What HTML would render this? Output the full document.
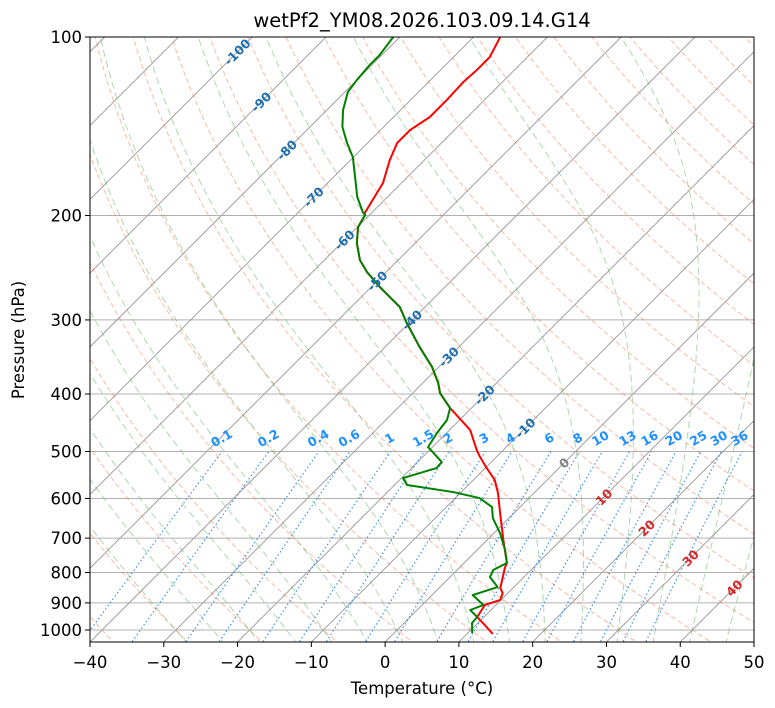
<!DOCTYPE html>
<html><head><meta charset="utf-8">
<style>
html,body{margin:0;padding:0;background:#fff;}
svg{display:block;font-family:"DejaVu Sans","Liberation Sans",sans-serif;}
</style></head>
<body>
<svg id="chart" width="775" height="708" viewBox="0 0 775 708" xmlns="http://www.w3.org/2000/svg">
<defs><clipPath id="plotclip"><rect x="90" y="37" width="664" height="605"/></clipPath></defs>
<rect x="0" y="0" width="775" height="708" fill="#fff"/>
<g id="bg" clip-path="url(#plotclip)"></g>
<g id="series" clip-path="url(#plotclip)"></g>
<g id="labels"></g>
<rect x="90" y="37" width="664" height="605" fill="none" stroke="#000" stroke-width="1"/>
<g id="axes"></g>
<text x="422" y="27" text-anchor="middle" font-size="19.5" fill="#000">wetPf2_YM08.2026.103.09.14.G14</text>
<text x="422" y="694" text-anchor="middle" font-size="16.5" fill="#000">Temperature (°C)</text>
<text x="24" y="340" text-anchor="middle" font-size="16.5" fill="#000" transform="rotate(-90 24 340)">Pressure (hPa)</text>
</svg>
<script>
// ---- data ----
const tempP = [100,108.1,113.7,119.1,127.7,136.5,143.5,150.9,161.2,176.3,188.3,198.1,199.6,209.2,222.6,237.7,249.1,264.1,285.4,303.6,333.3,360.2,383.3,398.5,422.4,460.0,497.2,510.9,533.3,558.5,587.5,634.9,705.1,771.0,786.1,849.7,866.3,889.9,907.5,950.8,980.8,1015.5];
const tempT = [-66.4,-65.1,-65.1,-65.3,-65.1,-65.1,-66.0,-66.0,-64.7,-62.5,-61.6,-60.9,-60.6,-59.9,-57.9,-55.2,-52.6,-48.8,-43.4,-40.3,-35.3,-30.9,-27.9,-26.3,-22.9,-17.2,-13.6,-12.2,-9.8,-7.1,-4.9,-1.9,2.2,5.8,6.2,8.3,9.3,9.9,8.5,9.1,11.2,13.5];
const dewP = [100,107.2,111.5,118.2,123.8,132.8,141.8,150.9,159.4,172.2,186.1,197.3,199.6,209.2,222.6,237.7,249.1,264.1,285.4,303.6,333.3,360.2,383.3,398.5,422.4,442.5,465.4,491.4,521.0,533.3,554.4,569.6,585.3,599.1,620.4,647.4,686.2,733.1,771.0,792.3,814.1,846.4,873.0,907.5,925.4,950.8,973.2,1011.8];
const dewT = [-80.9,-80.3,-80.3,-80.0,-79.6,-77.8,-75.6,-72.8,-70.1,-67.1,-64.1,-61.3,-60.6,-59.9,-57.9,-55.2,-52.6,-48.8,-43.4,-40.3,-35.3,-30.9,-27.9,-26.3,-22.9,-21.7,-21.3,-20.6,-16.7,-16.6,-19.8,-18.3,-11.1,-6.7,-3.8,-2.2,0.8,3.8,5.8,4.9,5.4,7.8,5.5,8.3,7.2,9.1,9.2,10.6];
const xTicks = [-40,-30,-20,-10,0,10,20,30,40,50];
const pTicks = [100,200,300,400,500,600,700,800,900,1000];
const mixRatios = [0.1,0.2,0.4,0.6,1,1.5,2,3,4,6,8,10,13,16,20,25,30,36];
const isoLabels = [-100,-90,-80,-70,-60,-50,-40,-30,-20,-10,0,10,20,30,40];
const isoLabelY = [52,102,150,197,240,281,320,357,395,428,463,497,528,558,588];

// ---- scales ----
const NS='http://www.w3.org/2000/svg';
function Y(p){return 37+593*Math.log10(p/100);}
function X(T,p){return 90+(T+40)*7.378+(642-Y(p));}
function mk(tag,attrs,parent){const e=document.createElementNS(NS,tag);for(const k in attrs)e.setAttribute(k,attrs[k]);parent.appendChild(e);return e;}
function pathFrom(Ts,Ps){let d='';for(let i=0;i<Ts.length;i++){d+=(i?'L':'M')+X(Ts[i],Ps[i]).toFixed(2)+' '+Y(Ps[i]).toFixed(2);}return d;}
const bg=document.getElementById('bg'), ser=document.getElementById('series'), lab=document.getElementById('labels'), ax=document.getElementById('axes');
const pLev=[];for(let p=1060;p>=95;p-=5)pLev.push(p);

// isobars
for(const p of pTicks){const l=mk('line',{x1:90,x2:754,y1:Y(p),y2:Y(p),stroke:'#b0b0b0','stroke-width':1},bg);

}
// isotherms
for(let T=-160;T<=50;T+=10){const l=mk('line',{x1:X(T,1050),y1:Y(1050),x2:X(T,90),y2:Y(90),stroke:'#a0a0a0','stroke-width':1},bg);

}
// dry adiabats
for(let th=-40;th<=200;th+=10){const Ts=pLev.map(p=>(th+273.15)*Math.pow(p/1000,0.2857)-273.15);
const e=mk('path',{d:pathFrom(Ts,pLev),fill:'none',stroke:'#f07850','stroke-opacity':0.5,'stroke-width':1,'stroke-dasharray':'5,3'},bg);

}
// moist adiabats
function es(Tc){return 6.112*Math.exp(17.67*Tc/(Tc+243.5));}
function dTdp(T,p){const Rd=287.04,Lv=2.501e6,Cp=1005.7,eps=0.622;const e=es(T-273.15);const rs=eps*e/(p-e);
return (1/p)*(Rd*T+Lv*rs)/(Cp+Lv*Lv*rs*eps/(Rd*T*T));}
for(let t0=-30;t0<=45;t0+=5){
  const up=[],upP=[];let T=t0+273.15;
  for(let p=1000;p>=100;p-=5){up.push(T-273.15);upP.push(p);T-=dTdp(T,p)*5;}
  T=t0+273.15;const dn=[],dnP=[];
  for(let p=1000;p<=1060;p+=5){dn.unshift(T-273.15);dnP.unshift(p);T+=dTdp(T,p)*5;}
  const Ts=dn.concat(up.slice(1)),Ps=dnP.concat(upP.slice(1));
  const e=mk('path',{d:pathFrom(Ts,Ps),fill:'none',stroke:'#60b060','stroke-opacity':0.5,'stroke-width':1,'stroke-dasharray':'7,4'},bg);
  
  
}
// mixing ratio lines
function tdFromW(w,p){const e=w*p/(0.622+w);const l=Math.log(e/6.112);return 243.5*l/(17.67-l);}
const mP=[];for(let p=1060;p>=500;p-=10)mP.push(p);
for(const w of mixRatios){
  const Ts=mP.map(p=>tdFromW(w/1000,p));
  const e=mk('path',{d:pathFrom(Ts,mP),fill:'none',stroke:'#1e7fe8','stroke-opacity':0.85,'stroke-width':1.2,'stroke-dasharray':'1.5,2.5'},bg);
  
  
  const lx=X(tdFromW(w/1000,480),480)-6, ly=Y(480)+1;
  const t=mk('text',{x:lx,y:ly,'font-size':12.5,'font-weight':'bold',fill:'#1e90ff','text-anchor':'middle',transform:`rotate(-30 ${lx} ${ly})`},lab);
  t.textContent=String(w);
  
  
}
// isotherm labels
isoLabels.forEach((T,i)=>{const y=isoLabelY[i];const p=100*Math.pow(10,(y-37)/593);const x=X(T,p);
  const col=T<0?'#1f6fb0':(T===0?'#808080':'#d62728');
  const t=mk('text',{x:x,y:y+4.5,'font-size':12.5,'font-weight':'bold',fill:col,'text-anchor':'middle',transform:`rotate(-45 ${x} ${y})`},lab);
  t.textContent=String(T);
  
  });
// series
const tl=mk('path',{d:pathFrom(tempT,tempP),fill:'none',stroke:'#ff0000','stroke-width':2,'stroke-linejoin':'round'},ser);


const dl=mk('path',{d:pathFrom(dewT,dewP),fill:'none',stroke:'#008000','stroke-width':2,'stroke-linejoin':'round'},ser);


// axes ticks
for(const T of xTicks){const x=90+(T+40)*7.378;
  const l=mk('line',{x1:x,x2:x,y1:642,y2:647,stroke:'#000'},ax);
  
  
  const t=mk('text',{x:x,y:668,'font-size':16.5,'text-anchor':'middle',fill:'#000'},ax);
  t.textContent=(T<0?'\u2212'+(-T):String(T));
  
  }
for(const p of pTicks){const y=Y(p);
  const l=mk('line',{x1:85,x2:90,y1:y,y2:y,stroke:'#000'},ax);
  
  
  const t=mk('text',{x:82,y:y+6,'font-size':16.5,'text-anchor':'end',fill:'#000'},ax);
  t.textContent=String(p);
  
  }
</script>
</body></html>
